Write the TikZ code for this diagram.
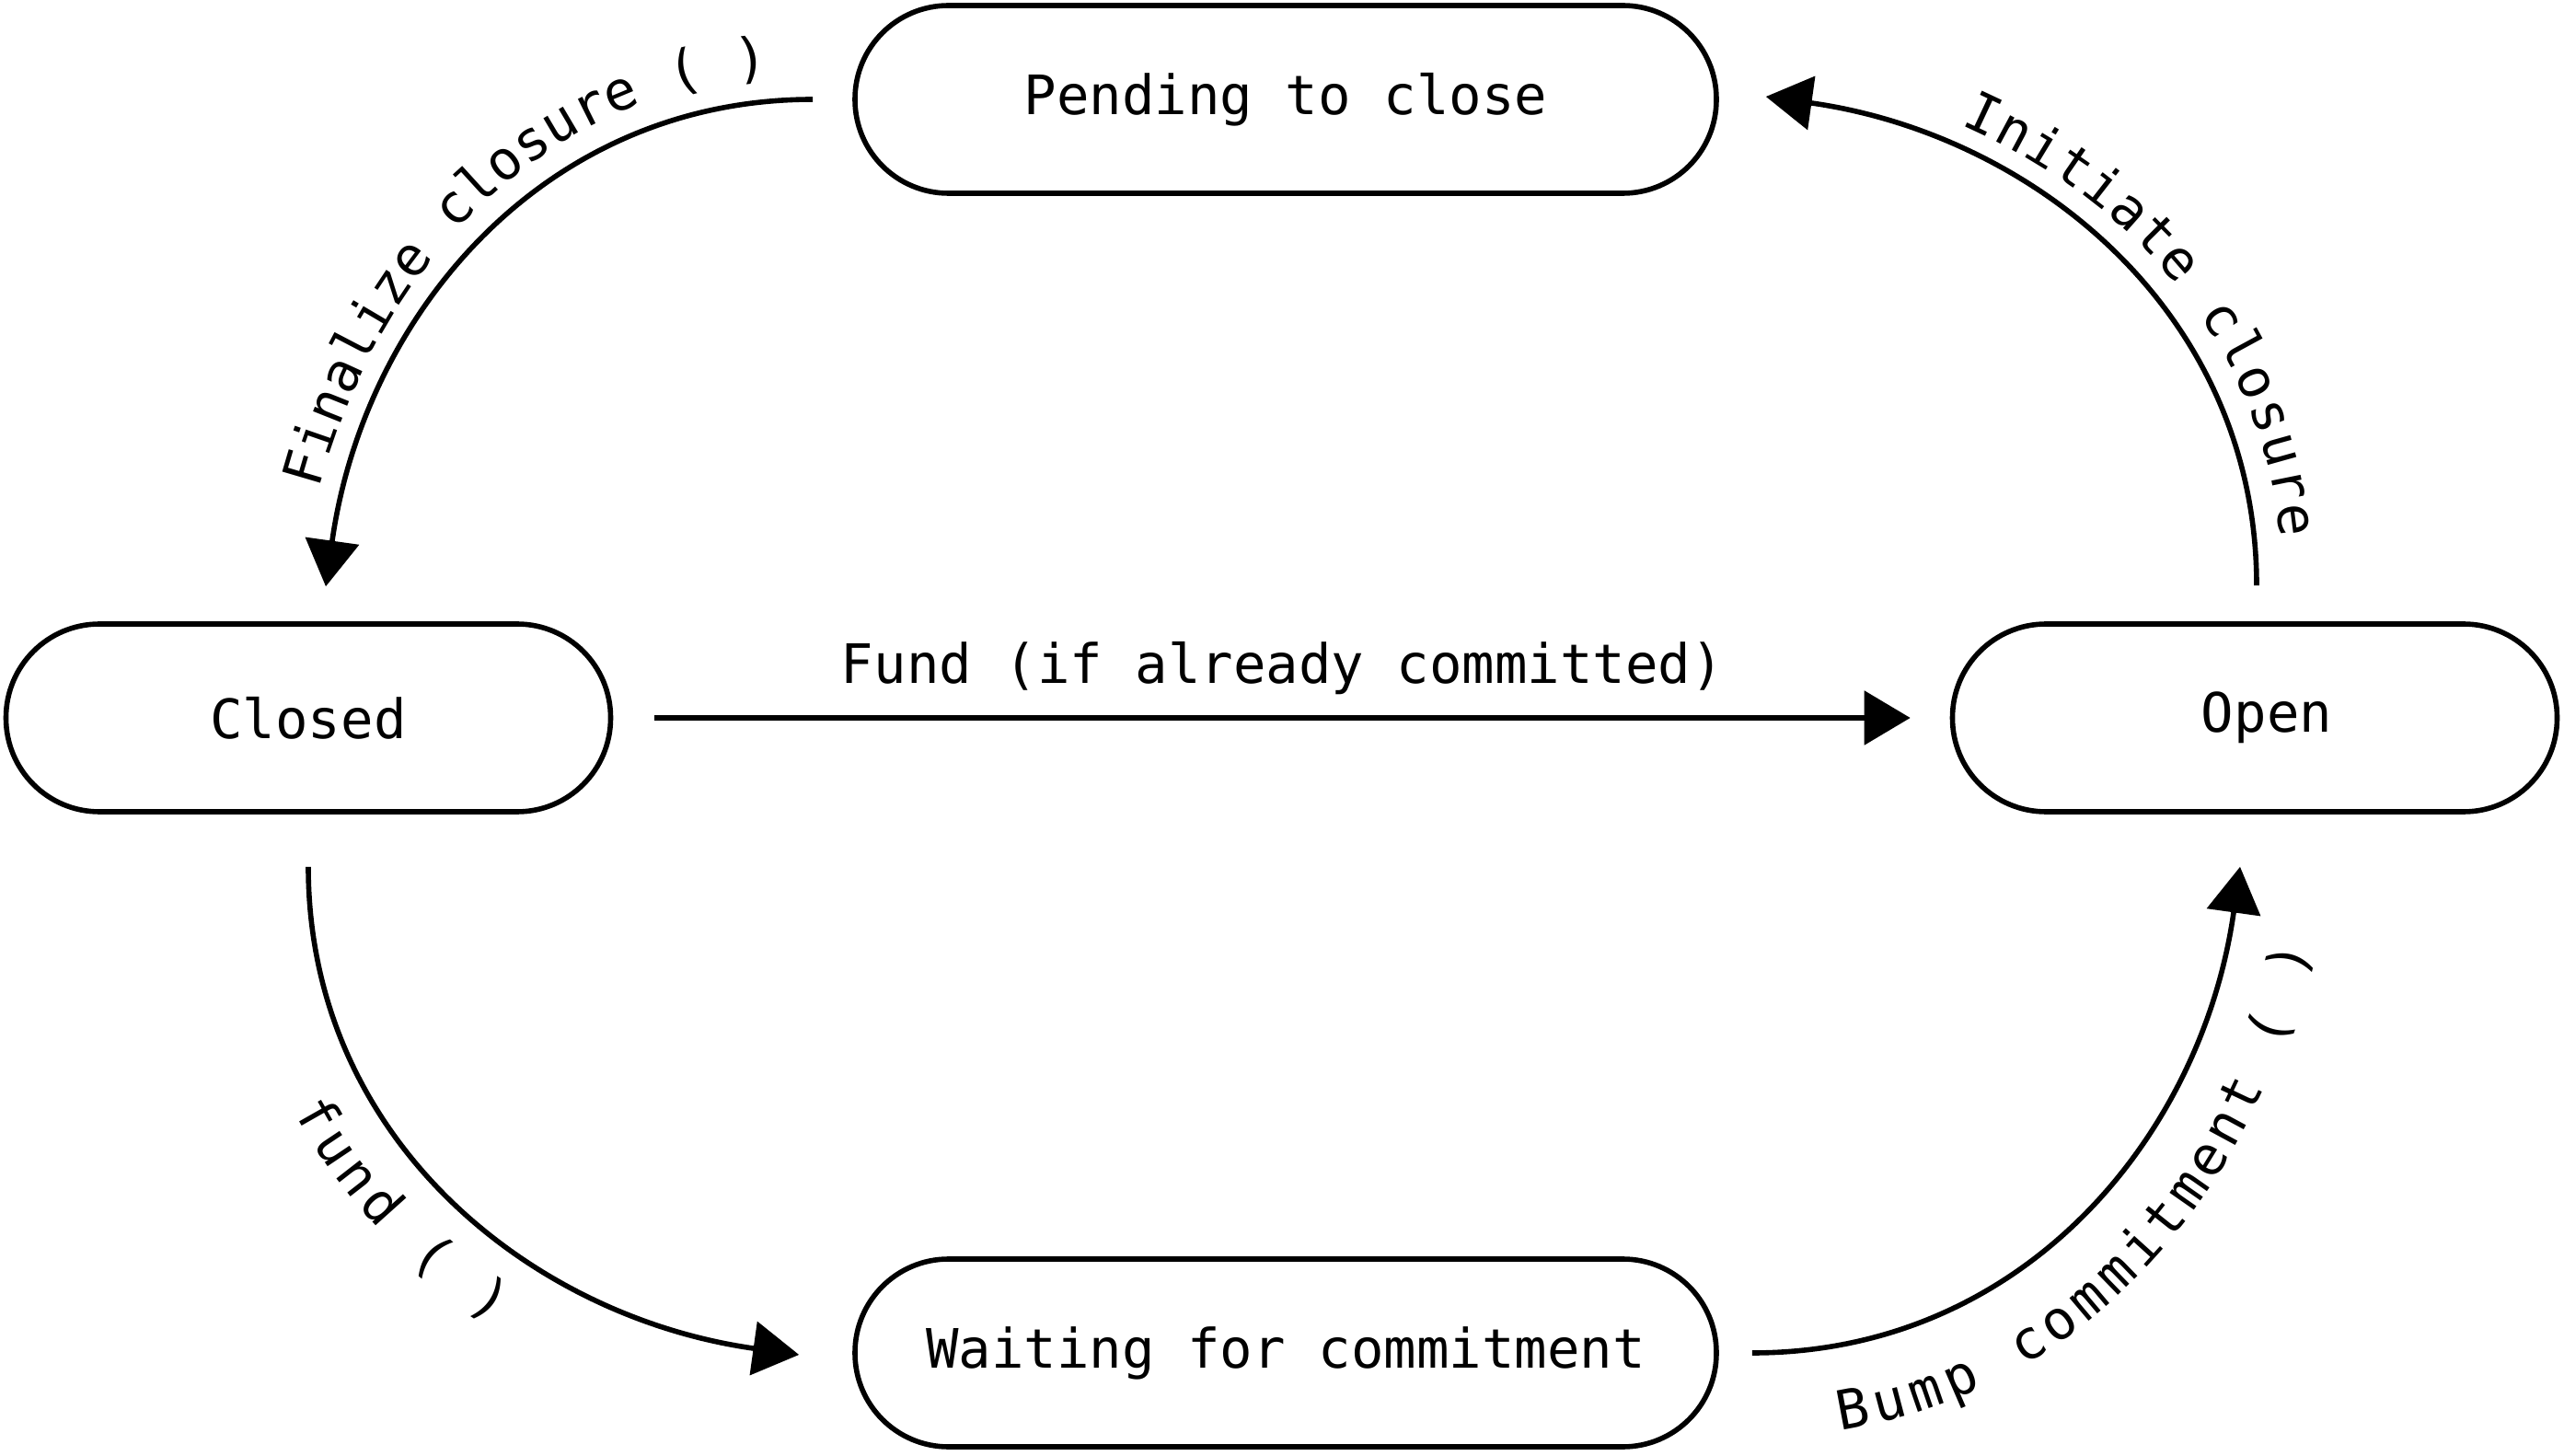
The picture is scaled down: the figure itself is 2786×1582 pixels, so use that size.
\documentclass[tikz,border=0pt]{standalone}
\usepackage{fontspec}
\usetikzlibrary{arrows.meta,calc,decorations.text}
\newfontfamily\monof{DejaVu Sans Mono}
\newcommand\lblfont{\monof\fontsize{14.75pt}{17pt}\selectfont}
\begin{document}
\begin{tikzpicture}[x=0.25pt,y=-0.25pt,
  state/.style={draw, line width=1.4pt, rounded corners=25.4pt, minimum height=51pt, inner sep=0pt, font=\lblfont},
  wide/.style={minimum width=234pt},
  narrow/.style={minimum width=164.25pt},
  conn/.style={line width=1.4pt, -{Triangle[length=12.5pt,width=14.5pt]}},
  arctext/.style n args={4}{decorate, decoration={text along path, text={|\lblfont|#1}, text align={center, left indent=#3, right indent=#4}, raise=#2}}]
\useasboundingbox (0,0) rectangle (2786,1582);

\node[state, wide]   (pend)   at (1397,108)  {Pending to close};
\node[state, narrow] (closed) at (335,780)   {Closed};
\node[state, narrow] (open)   at (2450,780)  {\hspace*{6.5pt}Open};
\node[state, wide]   (wait)   at (1397,1470) {Waiting for commitment};

\coordinate (fS) at ($(pend.west)+(-43,0)$);
\coordinate (fT) at ($(closed.north)+(19,-38)$);
\coordinate (iS) at ($(open.north)+(2,-39)$);
\coordinate (iT) at ($(pend.east)+(51,-3)$);
\coordinate (uS) at ($(closed.south)+(0,57)$);
\coordinate (uT) at ($(wait.west)+(-58,2)$);
\coordinate (bS) at ($(wait.east)+(36,0)$);
\coordinate (bT) at ($(open.south)+(-16,57)$);
\coordinate (sS) at ($(closed.east)+(45,0)$);
\coordinate (sT) at ($(open.west)+(-43,0)$);

% Finalize closure
\draw[conn] (fS) .. controls +(-295,0) and +(41,-292) .. (fT);
\path[arctext={Finalize closure ( )}{0pt}{14pt}{0pt}] ($(fT)+(-28,-4)$) .. controls +(43,-307) and +(-310,0) .. ($(fS)+(0,-28)$);

% Initiate closure
\draw[conn] (iS) .. controls +(0,-295) and +(292,41) .. (iT);
\path[arctext={Initiate closure}{7pt}{40pt}{0pt}] (iT) .. controls +(292,41) and +(0,-295) .. (iS);

% fund ( )
\draw[conn] (uS) .. controls +(0,295) and +(-292,-41) .. (uT);
\path[arctext={fund ( )}{-20pt}{0pt}{18pt}] (uS) .. controls +(0,295) and +(-292,-41) .. (uT);

% Bump commitment ( )
\draw[conn] (bS) .. controls +(295,0) and +(-41,292) .. (bT);
\path[arctext={Bump commitment ( )}{-23pt}{3pt}{0pt}] (bS) .. controls +(295,0) and +(-41,292) .. (bT);

% Fund (if already committed)
\draw[conn] (sS) -- node[midway, anchor=base, inner sep=0pt, yshift=9.25pt, font=\lblfont] (slbl) {Fund (if already committed)} (sT);
\end{tikzpicture}
\end{document}
